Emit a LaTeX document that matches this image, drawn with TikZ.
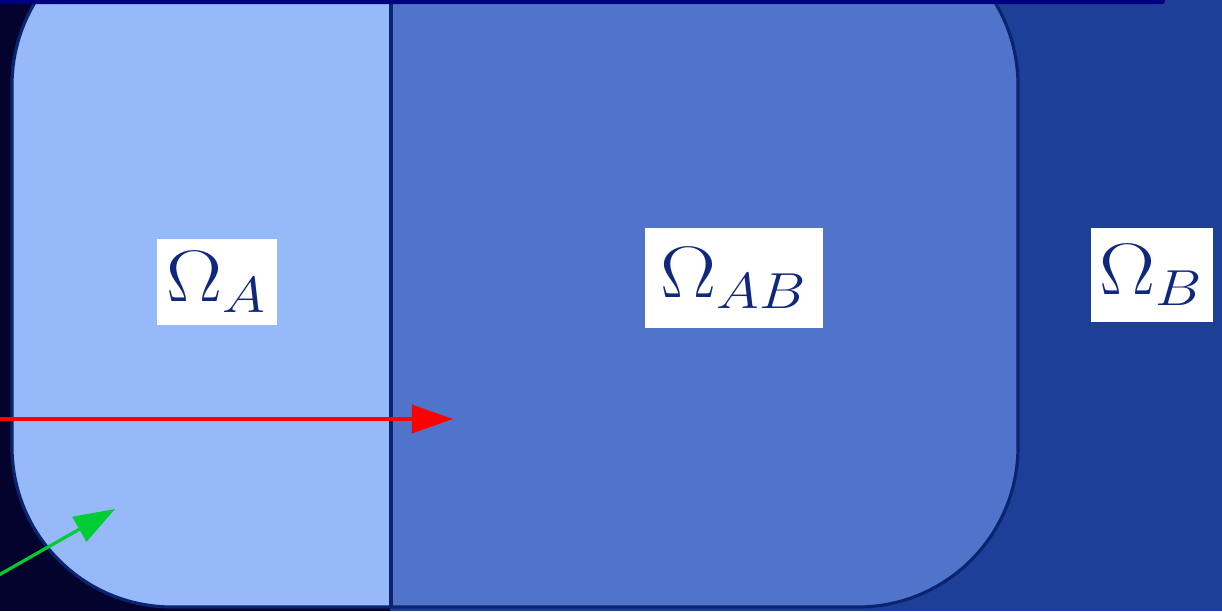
\documentclass[tikz,border=0pt]{standalone}
\usepackage{amsmath}
\usepackage{graphicx}
\usepackage{tikz}
\usepackage{xcolor}
\usetikzlibrary{arrows.meta}
\definecolor{darkback}{RGB}{3,3,46}
\definecolor{regionB}{RGB}{29,63,152}
\definecolor{regionA}{RGB}{150,185,250}
\definecolor{regionAB}{RGB}{79,116,201}
\definecolor{edgenavy}{RGB}{10,36,112}
\definecolor{topnavy}{RGB}{0,0,128}
\definecolor{labelnavy}{RGB}{14,40,125}
\definecolor{arrowgreen}{RGB}{0,204,51}
\newcommand{\widelbl}[1]{\scalebox{1.15}[1]{#1}}

\begin{document}
\begin{tikzpicture}[x=0.01cm, y=-0.01cm, >={Triangle[length=4.1mm, width=2.8mm]},
    lbl/.style={fill=white, text=labelnavy, inner sep=0pt, font=\huge}]
      \useasboundingbox (0,0) rectangle (1222,611);
      \clip (0,0) rectangle (1222,611);
      % background and the outer region
      \fill[darkback] (0,0) rectangle (1222,611);
      \fill[regionB] (390,0) rectangle (1222,611);
      % the rounded domain, split in two
      \begin{scope}
        \clip[rounded corners=1.6cm] (12,-75) rectangle (1018,607);
        \fill[regionA] (12,-75) rectangle (390,607);
        \fill[regionAB] (390,-75) rectangle (1018,607);
      \end{scope}
      \draw[edgenavy, line width=0.9pt, rounded corners=1.6cm] (12,-75) rectangle (1018,607);
      \draw[edgenavy, line width=1.2pt] (391,-10) -- (391,607);
      \fill[topnavy, rounded corners=0.03cm] (-20,-20) rectangle (1165,4);
      % labels
      \node[lbl, minimum width=1.19cm, minimum height=0.85cm] (omA) at (217,282) {\widelbl{$\Omega_A$}};
      \node[lbl, minimum width=1.77cm, minimum height=1.0cm] (omAB) at (734,278) {\widelbl{$\Omega_{AB}$}};
      \node[lbl, minimum width=1.22cm, minimum height=0.94cm] (omB) at (1152,275) {\widelbl{$\Omega_B$}};
      % arrows
      \coordinate (redstart) at (-10,419);
      \coordinate (redtip) at (453,419);
      \coordinate (greenstart) at (-10,580);
      \coordinate (greentip) at (115,509);
      \draw[->, red, line width=0.9pt] (redstart) -- (redtip);
      \draw[->, arrowgreen, line width=0.9pt] (greenstart) -- (greentip);
    \end{tikzpicture}
\end{document}
